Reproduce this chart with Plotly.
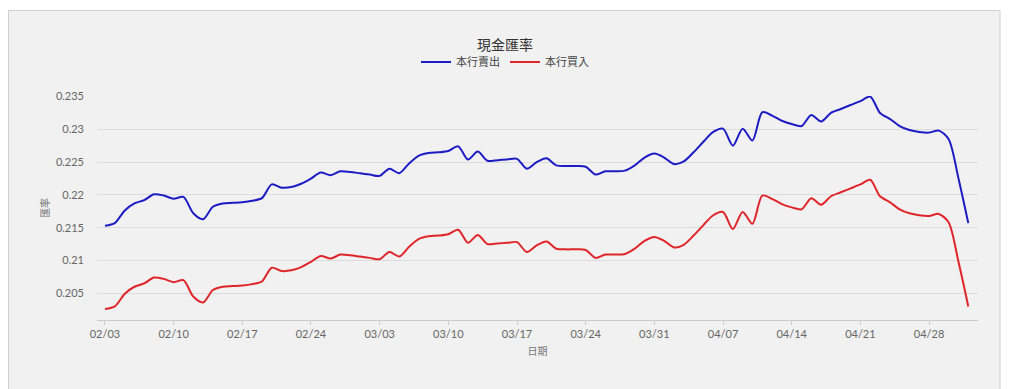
import plotly.graph_objects as go
import pandas as pd

title_text = "現金匯率"
series_names = ["本行賣出", "本行買入"]
x_title = "日期"
y_title = "匯率"

dates = pd.date_range("2025-02-03", "2025-05-02", freq="D")

sell = [
    0.2153, 0.2157, 0.2176, 0.2187, 0.2192, 0.2201, 0.2199, 0.2194, 0.2197, 0.2172,
    0.2163, 0.2182, 0.2187, 0.2188, 0.2189, 0.2191, 0.2195, 0.2216, 0.2211, 0.2212,
    0.2217, 0.2225, 0.2234, 0.2230, 0.2236, 0.2235, 0.2233, 0.2231, 0.2229, 0.2240,
    0.2233, 0.2248, 0.2260, 0.2264, 0.2265, 0.2267, 0.2274, 0.2254, 0.2266, 0.2252,
    0.2253, 0.2254, 0.2255, 0.2240, 0.2250, 0.2256, 0.2245, 0.2244, 0.2244, 0.2243,
    0.2231, 0.2236, 0.2236, 0.2237, 0.2245, 0.2257, 0.2263, 0.2257, 0.2247, 0.2251,
    0.2265, 0.2281, 0.2296, 0.2301, 0.2275, 0.2301, 0.2283, 0.2326, 0.2321, 0.2313,
    0.2308, 0.2305, 0.2322, 0.2312, 0.2325, 0.2331, 0.2337, 0.2343, 0.2350, 0.2325,
    0.2316, 0.2305, 0.2299, 0.2296, 0.2295, 0.2298, 0.2285, 0.2225, 0.2157,
]

buy = [
    0.2026, 0.2030, 0.2049, 0.2060, 0.2065, 0.2074, 0.2072, 0.2067, 0.2070, 0.2045,
    0.2036, 0.2055, 0.2060, 0.2061, 0.2062, 0.2064, 0.2068, 0.2089, 0.2084, 0.2085,
    0.2090, 0.2098, 0.2107, 0.2103, 0.2109, 0.2108, 0.2106, 0.2104, 0.2102, 0.2113,
    0.2106, 0.2121, 0.2133, 0.2137, 0.2138, 0.2140, 0.2147, 0.2127, 0.2139, 0.2125,
    0.2126, 0.2127, 0.2128, 0.2113, 0.2123, 0.2129, 0.2118, 0.2117, 0.2117, 0.2116,
    0.2104, 0.2109, 0.2109, 0.2110, 0.2118, 0.2130, 0.2136, 0.2130, 0.2120, 0.2124,
    0.2138, 0.2154, 0.2169, 0.2174, 0.2148, 0.2174, 0.2156, 0.2199, 0.2194, 0.2186,
    0.2181, 0.2178, 0.2195, 0.2185, 0.2198, 0.2204, 0.2210, 0.2216, 0.2223, 0.2198,
    0.2189, 0.2178, 0.2172, 0.2169, 0.2168, 0.2171, 0.2158, 0.2098, 0.2030,
]

y_ticks = [0.205, 0.21, 0.215, 0.22, 0.225, 0.23, 0.235]
y_ticklabels = ["0.205", "0.21", "0.215", "0.22", "0.225", "0.23", "0.235"]

colors = ["#1c1cc4", "#e0252a"]

# the page body has an 8px margin, so figure coords = screen coords - 8
OFF = 8
W, H = 1024, 389
ml = 97 - OFF
mr = W - (978 - OFF)
mt = 96 - OFF
mb = H - (320 - OFF)
pw, ph = W - ml - mr, H - mt - mb

FONT = "Lato, 'Noto Sans CJK TC', sans-serif"

fig = go.Figure()
for name, vals, c in zip(series_names, [sell, buy], colors):
    fig.add_trace(go.Scatter(
        x=dates, y=vals, name=name, mode="lines",
        line=dict(color=c, width=2, shape="spline", smoothing=0.8),
    ))

def px_x(p):
    return (p - OFF - ml) / pw

def px_y(p):
    return (H - mb - (p - OFF)) / ph

fig.add_shape(type="rect", xref="paper", yref="paper",
              x0=px_x(8.5), x1=px_x(1000), y0=px_y(420), y1=px_y(10.5),
              fillcolor="#f1f1f1", line=dict(color="#d0d0d0", width=1),
              layer="below")

fig.update_layout(
    width=W, height=H,
    margin=dict(l=ml, r=mr, t=mt, b=mb),
    paper_bgcolor="white",
    plot_bgcolor="rgba(0,0,0,0)",
    font=dict(family=FONT, color="#666666", size=11),
    title=dict(text=title_text, x=(505 - OFF) / W, xanchor="center", xref="container",
               y=1 - (45 - OFF) / H, yanchor="middle", yref="container",
               font=dict(size=14, color="#333333", family=FONT)),
    legend=dict(orientation="h", x=px_x(505), xanchor="center",
                y=px_y(62), yanchor="middle",
                font=dict(size=11, color="#444444"),
                bgcolor="rgba(0,0,0,0)", itemwidth=30),
    showlegend=True,
)

fig.update_xaxes(
    type="date",
    range=["2025-02-02 04:30", "2025-05-02 23:45"],
    tick0="2025-02-03", dtick=7 * 24 * 3600 * 1000,
    tickformat="%m/%d",
    showgrid=False, zeroline=False,
    showline=True, linecolor="#cccccc", linewidth=1,
    ticks="outside", ticklen=4, tickcolor="#cccccc",
    tickfont=dict(size=11, color="#666666"),
    title=dict(text=x_title, font=dict(size=10, color="#777777"), standoff=8),
)

fig.update_yaxes(
    range=[0.20093, 0.23508],
    tickvals=y_ticks, ticktext=y_ticklabels,
    showgrid=True, gridcolor="#dcdcdc", gridwidth=1,
    zeroline=False, showline=False, ticks="",
    ticklabelstandoff=12,
    tickfont=dict(size=11, color="#666666"),
    title=dict(text=y_title, font=dict(size=10, color="#777777"), standoff=4),
)

fig.write_html("out.html")
